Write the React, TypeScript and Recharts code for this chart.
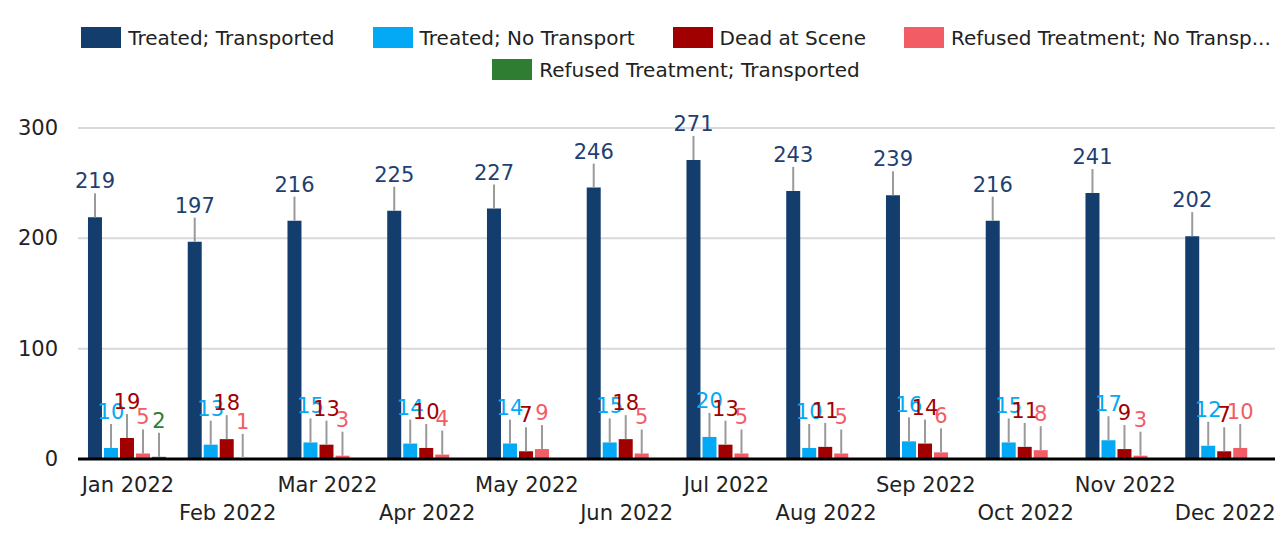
import React from "react";
import { BarChart, Bar, XAxis, YAxis, CartesianGrid, Legend, LabelList } from "recharts";

const months = ["Jan 2022","Feb 2022","Mar 2022","Apr 2022","May 2022","Jun 2022","Jul 2022","Aug 2022","Sep 2022","Oct 2022","Nov 2022","Dec 2022"];
const treatedTransported = [219,197,216,225,227,246,271,243,239,216,241,202];
const treatedNoTransport = [10,13,15,14,14,15,20,10,16,15,17,12];
const deadAtScene = [19,18,13,10,7,18,13,11,14,11,9,7];
const refusedNoTransport = [5,1,3,4,9,5,5,5,6,8,3,10];
const refusedTransported: (number | null)[] = [2,null,null,null,null,null,null,null,null,null,null,null];
const yTicks = [0,100,200,300];

const series = [
  { key: "tt", name: "Treated; Transported", legendName: "Treated; Transported", color: "#133d6d", label: "#1e3f73" },
  { key: "tn", name: "Treated; No Transport", legendName: "Treated; No Transport", color: "#03a9f4", label: "#03a9f4" },
  { key: "ds", name: "Dead at Scene", legendName: "Dead at Scene", color: "#a00000", label: "#a00000" },
  { key: "rn", name: "Refused Treatment; No Transport", legendName: "Refused Treatment; No Transp...", color: "#f25c64", label: "#f25c64" },
  { key: "rt", name: "Refused Treatment; Transported", legendName: "Refused Treatment; Transported", color: "#2e7d32", label: "#2e7d32" },
];

const data = months.map((m, i) => ({
  month: m,
  tt: treatedTransported[i],
  tn: treatedNoTransport[i],
  ds: deadAtScene[i],
  rn: refusedNoTransport[i],
  rt: refusedTransported[i],
}));

const FONT = "'DejaVu Sans', sans-serif";

const makeLabel = (color: string) => (props: any) => {
  const { x, y, width, value } = props;
  if (value === null || value === undefined) return null;
  const cx = Number(x) + Number(width) / 2;
  const top = Number(y);
  return (
    <g>
      <line x1={cx} y1={top} x2={cx} y2={top - 24} stroke="#9a9a9a" strokeWidth={2} />
      <text x={cx} y={top - 29} textAnchor="middle" fill={color} fontSize={21} fontFamily={FONT}>{value}</text>
    </g>
  );
};

const XTick = (props: any) => {
  const { x, y, payload, index } = props;
  const dy = index % 2 === 0 ? 33 : 61;
  return (
    <text x={x} y={Number(y) + dy - 8} textAnchor="middle" fill="#222" fontSize={21} fontFamily={FONT}>{payload.value}</text>
  );
};

const YTick = (props: any) => {
  const { y, payload } = props;
  return (
    <text x={58} y={Number(y) + 7} textAnchor="end" fill="#222" fontSize={21} fontFamily={FONT}>{payload.value}</text>
  );
};

const LegendContent = () => (
  <div style={{ height: 118, boxSizing: "border-box", paddingTop: 17, fontFamily: FONT, fontSize: 20, color: "#222" }}>
    <div style={{ display: "flex", flexWrap: "wrap", justifyContent: "center", width: 1240, marginLeft: 56, rowGap: 11 }}>
      {series.map((s) => (
        <div key={s.key} style={{ display: "flex", alignItems: "center", margin: "0 19px", height: 21 }}>
          <span style={{ display: "inline-block", width: 40, height: 21, background: s.color, marginRight: 7 }} />
          <span style={{ whiteSpace: "nowrap" }}>{s.legendName}</span>
        </div>
      ))}
    </div>
  </div>
);

export default function App() {
  return (
    <div style={{ position: "absolute", left: 0, top: 0, width: 1285, height: 533, background: "#fff" }}>
      <BarChart width={1285} height={533} data={data} margin={{ top: 10, right: 10, bottom: 0, left: 0 }} barCategoryGap="10%" barGap={2}>
        <Legend verticalAlign="top" content={<LegendContent />} />
        <CartesianGrid horizontal vertical={false} stroke="#d9d9d9" strokeWidth={2} />
        <XAxis dataKey="month" interval={0} tick={<XTick />} tickLine={false} axisLine={{ stroke: "#000", strokeWidth: 3 }} height={74} />
        <YAxis domain={[0, 300]} ticks={yTicks} tick={<YTick />} tickLine={false} axisLine={false} width={78} />
        {series.map((s) => (
          <Bar key={s.key} dataKey={s.key} name={s.name} fill={s.color} isAnimationActive={false}>
            <LabelList dataKey={s.key} content={makeLabel(s.label)} />
          </Bar>
        ))}
      </BarChart>
    </div>
  );
}
